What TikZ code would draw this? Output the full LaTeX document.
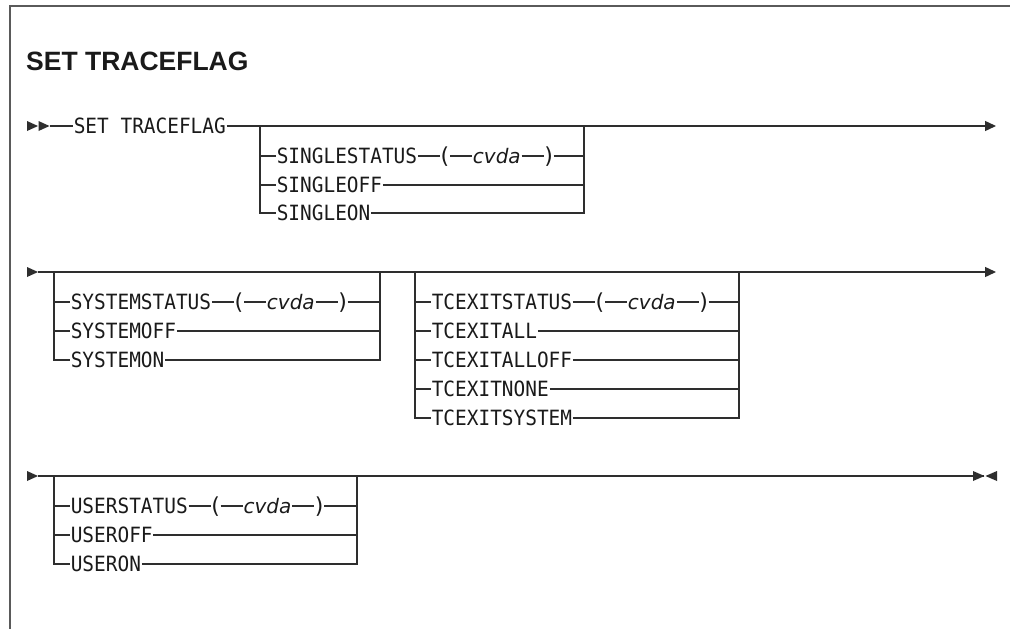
\documentclass[tikz,border=0pt]{standalone}
\usepackage{fontspec}
\setmainfont{Liberation Sans}
\newfontfamily\kwfont[FakeStretch=0.925]{DejaVu Sans Mono}
\newfontfamily\varfont{DejaVu Sans}
\usetikzlibrary{positioning,arrows.meta}
\definecolor{railc}{HTML}{2E2E2E}
\definecolor{textc}{HTML}{1A1A1A}
\definecolor{framec}{HTML}{5A5A5A}
\begin{document}
\begin{tikzpicture}[x=1pt,y=-1pt,
  rail/.style={draw=railc,line width=1.4pt},
  tipfill/.style={fill=railc},
  endtip/.style={-{Triangle[length=11pt,width=10pt]}},
  kw/.style={inner sep=0pt,outer sep=0.8pt,text height=15.3pt,text depth=0pt,text=textc,
    font={\kwfont\fontsize{21}{22}\selectfont}},
  par/.style={kw,font={\varfont\fontsize{22}{23}\selectfont}},
  var/.style={kw,font={\varfont\itshape\fontsize{20}{22}\selectfont}},
  ogap/.style={right=22pt of #1},
  frame/.style={draw=framec,line width=1.5pt}]
\useasboundingbox (0,0) rectangle (1010,629);
\fill[white] (0,0) rectangle (1010,629);
% frame
\draw[frame] (10,629) -- (10,6) -- (1010,6);
% title
\node[anchor=west,inner sep=0pt,text height=19pt,text depth=0pt,text=textc,
  font={\bfseries\fontsize{26.5}{30}\selectfont}] (title) at (26,61) {SET TRACEFLAG};

% ---------- row 1 ----------
\fill[tipfill] (27,121) -- (38,126) -- (27,131) -- cycle;
\fill[tipfill] (38.5,121) -- (49.5,126) -- (38.5,131) -- cycle;
\coordinate (r1a) at (49.5,126);
\coordinate (r1z) at (996,126);
\node[kw,anchor=west] (set) at (73,126) {SET TRACEFLAG};
\draw[rail] (r1a) -- (set);
\draw[rail,endtip] (set) -- (r1z);
\coordinate (b1l) at (260,126);
\coordinate (b1r) at (584,126);
\node[kw,anchor=west] (sst) at (276,156) {SINGLESTATUS};
\node[par,ogap=sst] (slp) {(};
\node[var,ogap=slp] (scv) {cvda};
\node[par,ogap=scv] (srp) {)};
\node[kw,anchor=west] (soff) at (276,185) {SINGLEOFF};
\node[kw,anchor=west] (son) at (276,213) {SINGLEON};
\draw[rail] (sst -| b1l) -- (sst) -- (slp) -- (scv) -- (srp) -- (srp -| b1r);
\draw[rail] (soff -| b1l) -- (soff) -- (soff -| b1r);
\draw[rail] (b1l) |- (son) -- (son -| b1r) -- (b1r);

% ---------- row 2 ----------
\fill[tipfill] (27,267) -- (38,272) -- (27,277) -- cycle;
\coordinate (r2a) at (38,272);
\coordinate (r2z) at (996,272);
\draw[rail,endtip] (r2a) -- (r2z);
\coordinate (b2l) at (54,272);
\coordinate (b2r) at (380,272);
\node[kw,anchor=west] (yst) at (70,302) {SYSTEMSTATUS};
\node[par,ogap=yst] (ylp) {(};
\node[var,ogap=ylp] (ycv) {cvda};
\node[par,ogap=ycv] (yrp) {)};
\node[kw,anchor=west] (yoff) at (70,331) {SYSTEMOFF};
\node[kw,anchor=west] (yon) at (70,360) {SYSTEMON};
\draw[rail] (yst -| b2l) -- (yst) -- (ylp) -- (ycv) -- (yrp) -- (yrp -| b2r);
\draw[rail] (yoff -| b2l) -- (yoff) -- (yoff -| b2r);
\draw[rail] (b2l) |- (yon) -- (yon -| b2r) -- (b2r);

\coordinate (b3l) at (415,272);
\coordinate (b3r) at (739,272);
\node[kw,anchor=west] (tst) at (431,302) {TCEXITSTATUS};
\node[par,ogap=tst] (tlp) {(};
\node[var,ogap=tlp] (tcv) {cvda};
\node[par,ogap=tcv] (trp) {)};
\node[kw,anchor=west] (tall) at (431,331) {TCEXITALL};
\node[kw,anchor=west] (toff) at (431,360) {TCEXITALLOFF};
\node[kw,anchor=west] (tnone) at (431,389) {TCEXITNONE};
\node[kw,anchor=west] (tsys) at (431,418) {TCEXITSYSTEM};
\draw[rail] (tst -| b3l) -- (tst) -- (tlp) -- (tcv) -- (trp) -- (trp -| b3r);
\draw[rail] (tall -| b3l) -- (tall) -- (tall -| b3r);
\draw[rail] (toff -| b3l) -- (toff) -- (toff -| b3r);
\draw[rail] (tnone -| b3l) -- (tnone) -- (tnone -| b3r);
\draw[rail] (b3l) |- (tsys) -- (tsys -| b3r) -- (b3r);

% ---------- row 3 ----------
\fill[tipfill] (27,471) -- (38,476) -- (27,481) -- cycle;
\coordinate (r3a) at (38,476);
\coordinate (r3z) at (984,476);
\draw[rail] (r3a) -- (r3z);
\fill[tipfill] (973,471) -- (984.5,476) -- (973,481) -- cycle;
\fill[tipfill] (997,471) -- (985.5,476) -- (997,481) -- cycle;
\coordinate (b4l) at (54,476);
\coordinate (b4r) at (357,476);
\node[kw,anchor=west] (ust) at (70,506) {USERSTATUS};
\node[par,ogap=ust] (ulp) {(};
\node[var,ogap=ulp] (ucv) {cvda};
\node[par,ogap=ucv] (urp) {)};
\node[kw,anchor=west] (uoff) at (70,535) {USEROFF};
\node[kw,anchor=west] (uon) at (70,564) {USERON};
\draw[rail] (ust -| b4l) -- (ust) -- (ulp) -- (ucv) -- (urp) -- (urp -| b4r);
\draw[rail] (uoff -| b4l) -- (uoff) -- (uoff -| b4r);
\draw[rail] (b4l) |- (uon) -- (uon -| b4r) -- (b4r);
\end{tikzpicture}
\end{document}
